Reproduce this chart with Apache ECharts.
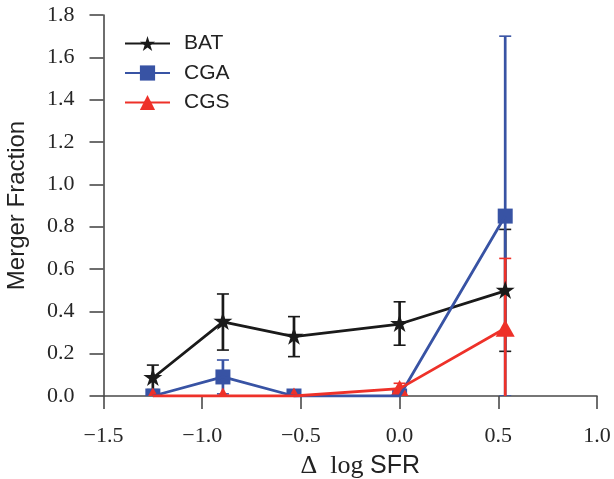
<!DOCTYPE html>
<html>
<head>
<meta charset="utf-8">
<script src="https://cdn.jsdelivr.net/npm/echarts@6/dist/echarts.min.js"></script>
<style>
html,body{margin:0;padding:0;background:#fff;}
#chart{width:614px;height:479px;}
</style>
</head>
<body>
<div id="chart"></div>
<script>
// ---- data ----
var xVals = [-1.25, -0.895, -0.535, 0.0, 0.535];

var batY  = [0.085, 0.35, 0.28, 0.34, 0.497];
var batLo = [0.03, 0.217, 0.186, 0.24, 0.211];
var batHi = [0.146, 0.482, 0.375, 0.445, 0.787];

var cgaY  = [0.0, 0.09, 0.0, 0.0, 0.85];
var cgaLo = [null, 0.01, null, null, 0.0];
var cgaHi = [null, 0.17, null, null, 1.70];

var cgsY  = [0.0, 0.0, 0.0, 0.035, 0.32];
var cgsLo = [null, null, null, 0.01, -0.01];
var cgsHi = [null, null, null, 0.06, 0.65];

var xTicks = [-1.5, -1.0, -0.5, 0.0, 0.5, 1.0];
var yTicks = [0.0, 0.2, 0.4, 0.6, 0.8, 1.0, 1.2, 1.4, 1.6, 1.8];

var seriesNames = ['BAT', 'CGA', 'CGS'];
// ---------------------------------------

var C_BAT = '#1a1a1a', C_CGA = '#3853a4', C_CGS = '#ee3129';
var SERIF = '"Liberation Serif","DejaVu Serif",serif';
var SANS = '"Liberation Sans","DejaVu Sans",sans-serif';

function starPoints(cx, cy, r) {
  var pts = [], ri = r * 0.381966;
  for (var k = 0; k < 10; k++) {
    var a = (-90 + 36 * k) * Math.PI / 180;
    var rr = (k % 2 === 0) ? r : ri;
    pts.push([cx + rr * Math.cos(a), cy + rr * Math.sin(a)]);
  }
  return pts;
}
function starPath() {
  var p = starPoints(0, 0, 10);
  return 'path://M' + p.map(function (q) { return q[0].toFixed(3) + ',' + q[1].toFixed(3); }).join('L') + 'Z';
}

function pairs(ys) { return xVals.map(function (x, i) { return [x, ys[i]]; }); }
function errData(lo, hi) {
  var out = [];
  xVals.forEach(function (x, i) { if (lo[i] !== null) out.push([x, lo[i], hi[i]]); });
  return out;
}

function errRender(color) {
  return function (params, api) {
    var x = api.value(0);
    var p1 = api.coord([x, api.value(1)]);
    var p2 = api.coord([x, api.value(2)]);
    var cw = 6;
    return {
      type: 'group',
      children: [
        { type: 'line', shape: { x1: p1[0], y1: p1[1], x2: p2[0], y2: p2[1] }, style: { stroke: color, lineWidth: 2.7 } },
        { type: 'line', shape: { x1: p1[0] - cw, y1: p1[1], x2: p1[0] + cw, y2: p1[1] }, style: { stroke: color, lineWidth: 1.6 } },
        { type: 'line', shape: { x1: p2[0] - cw, y1: p2[1], x2: p2[0] + cw, y2: p2[1] }, style: { stroke: color, lineWidth: 1.6 } }
      ]
    };
  };
}

function markerRender(kind, color) {
  return function (params, api) {
    var p = api.coord([api.value(0), api.value(1)]);
    if (kind === 'star') {
      return { type: 'polygon', shape: { points: starPoints(p[0], p[1], 10) }, style: { fill: color } };
    } else if (kind === 'square') {
      var s = 15;
      return { type: 'rect', shape: { x: p[0] - s / 2, y: p[1] - s / 2, width: s, height: s }, style: { fill: color } };
    } else {
      var w = 19, h = 17;
      return { type: 'polygon', shape: { points: [[p[0], p[1] - h / 2], [p[0] - w / 2, p[1] + h / 2], [p[0] + w / 2, p[1] + h / 2]] }, style: { fill: color } };
    }
  };
}

function errSeries(name, lo, hi, color) {
  return { name: name, type: 'custom', clip: true, silent: true, renderItem: errRender(color),
    encode: { x: 0, y: [1, 2] }, data: errData(lo, hi), z: 2 };
}
function lineSeries(name, ys, color, symbol) {
  return { name: name, type: 'line', data: pairs(ys), showSymbol: false, symbol: symbol,
    clip: true, silent: true, color: color, lineStyle: { color: color, width: 2.8 },
    itemStyle: { color: color }, z: 3 };
}
function markerSeries(name, ys, kind, color) {
  return { name: name, type: 'custom', clip: true, silent: true, renderItem: markerRender(kind, color),
    encode: { x: 0, y: 1 }, data: pairs(ys), z: 3 };
}

var chart = echarts.init(document.getElementById('chart'), null, { renderer: 'canvas' });
chart.setOption({
  animation: false,
  backgroundColor: '#ffffff',
  grid: { left: 103.5, right: 17, top: 15, bottom: 83, containLabel: false, outerBoundsMode: 'none' },
  legend: {
    data: seriesNames,
    orient: 'vertical',
    left: 119, top: 28,
    itemWidth: 45, itemHeight: 19, itemGap: 8.5,
    textStyle: { fontFamily: SANS, fontSize: 21, color: '#222', padding: [0, 0, 0, 9] },
    selectedMode: false
  },
  xAxis: {
    type: 'value', min: xTicks[0], max: xTicks[xTicks.length - 1], interval: 0.5,
    splitLine: { show: false },
    axisLine: { show: true, onZero: false, lineStyle: { color: '#4a4a4a', width: 1.6 } },
    axisTick: { show: true, length: 13, lineStyle: { color: '#4a4a4a', width: 1.6 } },
    axisLabel: { margin: 29, fontFamily: SERIF, fontSize: 22, color: '#262626',
      formatter: function (v) { return (v < 0 ? '\u2212' : '') + Math.abs(v).toFixed(1); } },
    name: '{m|\u0394  log}  {s|SFR}',
    nameLocation: 'middle', nameGap: 57,
    nameTextStyle: { padding: [0, 0, 0, 20], rich: {
      m: { fontFamily: SERIF, fontSize: 26, color: '#222' },
      s: { fontFamily: SANS, fontSize: 25, color: '#222' } } }
  },
  yAxis: {
    type: 'value', min: yTicks[0], max: yTicks[yTicks.length - 1], interval: 0.2,
    splitLine: { show: false },
    axisLine: { show: true, onZero: false, lineStyle: { color: '#4a4a4a', width: 1.6 } },
    axisTick: { show: true, length: 14, lineStyle: { color: '#4a4a4a', width: 1.6 } },
    axisLabel: { margin: 29, fontFamily: SERIF, fontSize: 22, color: '#262626',
      formatter: function (v) { return v.toFixed(1); } },
    name: 'Merger Fraction',
    nameLocation: 'middle', nameGap: 74,
    nameTextStyle: { fontFamily: SANS, fontSize: 24, color: '#222' }
  },
  series: [
    errSeries('BAT_err', batLo, batHi, C_BAT),
    errSeries('CGA_err', cgaLo, cgaHi, C_CGA),
    errSeries('CGS_err', cgsLo, cgsHi, C_CGS),
    lineSeries('BAT', batY, C_BAT, starPath()),
    markerSeries('BAT_pts', batY, 'star', C_BAT),
    lineSeries('CGA', cgaY, C_CGA, 'rect'),
    markerSeries('CGA_pts', cgaY, 'square', C_CGA),
    lineSeries('CGS', cgsY, C_CGS, 'triangle'),
    markerSeries('CGS_pts', cgsY, 'triangle', C_CGS)
  ]
});
</script>
</body>
</html>
